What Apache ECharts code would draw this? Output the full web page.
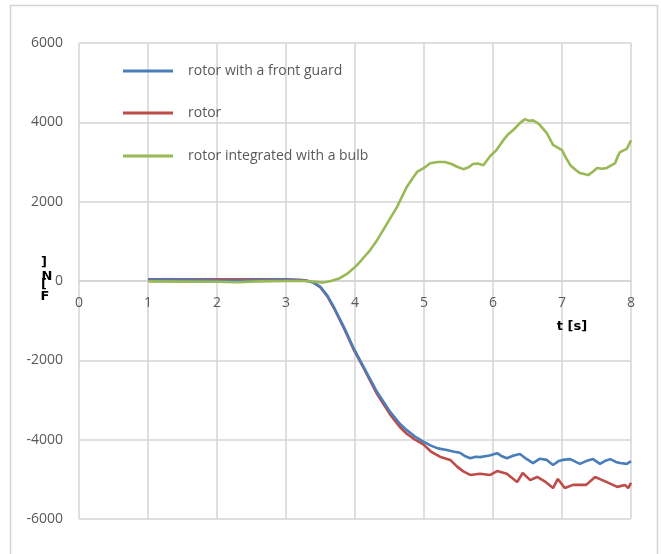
<!DOCTYPE html>
<html lang="en" style="height: 100%">
<head>
  <meta charset="utf-8">
  <script type="text/javascript" src="https://cdn.jsdelivr.net/npm/echarts@6/dist/echarts.min.js"></script>
</head>
<body style="height: 100%; margin: 0; background: #fff">
  <div id="main" style="height: 554px; width: 661px"></div>

  <script type="text/javascript">
    // series names
    var names = ['rotor with a front guard', 'rotor', 'rotor integrated with a bulb'];

    // rotor with a front guard
    var tBlue = [1.0, 1.5, 2.0, 2.3, 2.6, 3.0, 3.2, 3.3, 3.4, 3.5, 3.6, 3.7, 3.85, 3.97, 4.12, 4.32, 4.51, 4.65, 4.75, 4.87, 4.99,
      5.1, 5.2, 5.33, 5.42, 5.52, 5.6, 5.67, 5.75, 5.81, 5.95, 6.06, 6.13, 6.2, 6.3, 6.39, 6.48, 6.58, 6.68, 6.78, 6.87, 6.95,
      7.01, 7.12, 7.2, 7.26, 7.35, 7.45, 7.55, 7.62, 7.7, 7.78, 7.84, 7.94, 8.0];
    var fBlue = [30, 30, 15, 10, 25, 30, 20, 0, -40, -150, -370, -680, -1200, -1660, -2150, -2800, -3300, -3600, -3760, -3920, -4050,
      -4150, -4220, -4260, -4300, -4330, -4420, -4470, -4430, -4440, -4400, -4340, -4420, -4470, -4400, -4360, -4480, -4590, -4480, -4510, -4640, -4540,
      -4510, -4490, -4560, -4610, -4540, -4490, -4610, -4540, -4490, -4560, -4590, -4610, -4540];

    // rotor
    var tRed = [1.0, 1.5, 2.0, 2.5, 3.0, 3.2, 3.3, 3.4, 3.5, 3.6, 3.7, 3.85, 3.97, 4.12, 4.32, 4.51, 4.65, 4.75, 4.87, 4.99,
      5.1, 5.23, 5.38, 5.48, 5.57, 5.67, 5.81, 5.96, 6.06, 6.2, 6.35, 6.43, 6.54, 6.64, 6.75, 6.87, 6.94,
      7.04, 7.16, 7.35, 7.48, 7.56, 7.65, 7.8, 7.91, 7.96, 8.0];
    var fRed = [45, 45, 40, 40, 45, 30, 10, -40, -160, -390, -700, -1230, -1690, -2180, -2850, -3370, -3680, -3850, -4000, -4120,
      -4300, -4430, -4510, -4680, -4800, -4890, -4860, -4890, -4790, -4860, -5070, -4840, -5020, -4940, -5050, -5220, -4990,
      -5220, -5140, -5140, -4940, -5000, -5070, -5190, -5140, -5220, -5090];

    // rotor integrated with a bulb
    var tGreen = [1.0, 1.5, 2.0, 2.3, 2.6, 3.0, 3.3, 3.54, 3.65, 3.78, 3.9, 4.03, 4.12, 4.22, 4.32, 4.41, 4.51, 4.61, 4.68, 4.75, 4.83, 4.9,
      5.0, 5.09, 5.2, 5.3, 5.4, 5.48, 5.57, 5.64, 5.71, 5.78, 5.86, 5.96, 6.05, 6.15, 6.22, 6.29, 6.39, 6.46, 6.52, 6.58, 6.63, 6.68,
      6.78, 6.87, 6.95, 7.0, 7.06, 7.12, 7.2, 7.26, 7.38, 7.45, 7.51, 7.58, 7.65, 7.72, 7.77, 7.81, 7.84, 7.94, 8.0];
    var fGreen = [-10, -15, -20, -30, -10, 0, 0, -40, 0, 70, 200, 400, 580, 780, 1030, 1290, 1580, 1870, 2120, 2370, 2580, 2750,
      2850, 2970, 3000, 3000, 2950, 2880, 2820, 2860, 2950, 2960, 2920, 3150, 3300, 3550, 3700, 3800, 3980, 4080, 4040, 4050, 4000, 3930,
      3730, 3430, 3350, 3300, 3100, 2920, 2800, 2720, 2670, 2760, 2850, 2830, 2850, 2920, 2970, 3150, 3250, 3330, 3550];

    var colors = ['#4A7EBB', '#BE4B48', '#98B954'];

    function pairs(t, f) {
      var out = [];
      for (var i = 0; i < t.length; i++) out.push([t[i], f[i]]);
      return out;
    }

    var chart = echarts.init(document.getElementById('main'));
    var grey = '#595959';
    var font = 'Open Sans';
    var gridColor = '#D4D4D4';

    function legendAt(name, left, top) {
      return {
        data: [name], left: left, top: top, orient: 'vertical',
        icon: 'rect', itemWidth: 50, itemHeight: 3,
        textStyle: { fontFamily: font, fontSize: 14, color: grey, padding: [0, 0, 0, 10] }
      };
    }

    var option = {
      animation: false,
      color: colors,
      grid: { left: 79, right: 30, top: 43, bottom: 35 },
      legend: [
        legendAt(names[0], 118, 59),
        legendAt(names[1], 118, 101),
        legendAt(names[2], 118, 144)
      ],
      xAxis: {
        type: 'value', min: 0, max: 8, interval: 1,
        position: 'bottom', offset: -238,   // x labels sit under the F = 0 line
        axisLine: { show: true, onZero: false, lineStyle: { color: gridColor, width: 1.5 } },
        axisTick: { show: false },
        axisLabel: { margin: 15, fontFamily: font, fontSize: 14, color: grey },
        splitLine: { show: true, lineStyle: { color: gridColor, width: 1.5 } }
      },
      yAxis: {
        type: 'value', min: -6000, max: 6000, interval: 2000,
        axisLine: { show: false, onZero: false },
        axisTick: { show: false },
        axisLabel: { margin: 16, fontFamily: font, fontSize: 14, color: grey, formatter: function (v) { return String(v); } },
        splitLine: { show: true, lineStyle: { color: gridColor, width: 1.5 } }
      },
      graphic: [
        { type: 'rect', shape: { x: 10.5, y: 5.5, width: 647, height: 600 }, style: { fill: 'none', stroke: gridColor, lineWidth: 1.5 }, silent: true },
        { type: 'text', x: 572, y: 327, z: 10, style: { text: 't [s]', fontFamily: 'DejaVu Sans', fontWeight: 'bold', fontSize: 13, fill: '#000', align: 'center', verticalAlign: 'middle' } },
        { type: 'text', x: 44, y: 263, style: { text: ']', fontFamily: 'DejaVu Sans', fontWeight: 'bold', fontSize: 13, fill: '#000', align: 'center', verticalAlign: 'middle' } },
        { type: 'text', x: 47, y: 277, style: { text: 'N', fontFamily: 'DejaVu Sans', fontWeight: 'bold', fontSize: 13, fill: '#000', align: 'center', verticalAlign: 'middle' } },
        { type: 'text', x: 44, y: 285, style: { text: '[', fontFamily: 'DejaVu Sans', fontWeight: 'bold', fontSize: 13, fill: '#000', align: 'center', verticalAlign: 'middle' } },
        { type: 'text', x: 45, y: 297, style: { text: 'F', fontFamily: 'DejaVu Sans', fontWeight: 'bold', fontSize: 13, fill: '#000', align: 'center', verticalAlign: 'middle' } }
      ],
      series: [
        { name: names[0], type: 'line', data: pairs(tBlue, fBlue), showSymbol: false, z: 4, lineStyle: { width: 2.6 } },
        { name: names[1], type: 'line', data: pairs(tRed, fRed), showSymbol: false, z: 3, lineStyle: { width: 2.6 } },
        { name: names[2], type: 'line', data: pairs(tGreen, fGreen), showSymbol: false, z: 5, lineStyle: { width: 2.6 } }
      ]
    };

    chart.setOption(option);
  </script>
</body>
</html>
